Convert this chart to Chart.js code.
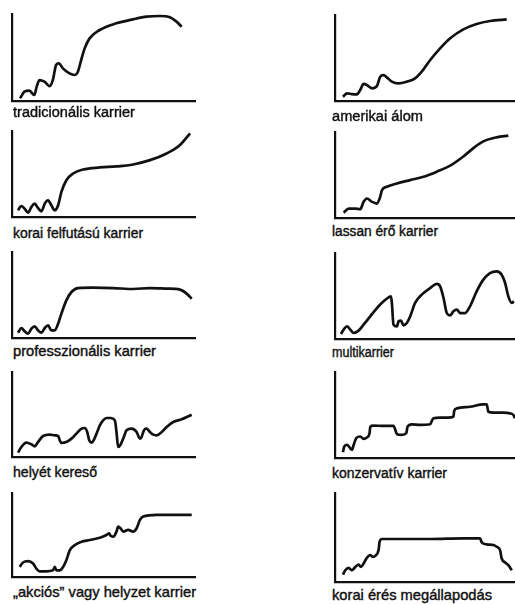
<!DOCTYPE html>
<html>
<head>
<meta charset="utf-8">
<script src="https://cdn.jsdelivr.net/npm/chart.js@4.4.3/dist/chart.umd.min.js"></script>
<style>
  html, body { margin: 0; padding: 0; background: #fff; overflow: hidden; }
  body { width: 515px; height: 604px; position: relative; }
  .box { position: absolute; }
  .lbl {
    position: absolute; left: 0; top: 0; width: max-content;
    font-family: "Liberation Sans", Arial, sans-serif;
    color: #111; white-space: nowrap; -webkit-text-stroke: 0.4px #111;
    transform-origin: 0 0;
  }
</style>
</head>
<body>
<script>
  // curve points: [x %, y %] of each small plot
  var tradicionalis = [[4.4,3.1],[6.8,10.7],[9.5,11.9],[12.2,6.9],[13.5,16.5],[15,24.1],[17.7,22.2],[20.5,17.2],[22.3,24.1],[24.1,41.4],[25.6,43.3],[27.8,37.5],[31.4,31.8],[34.2,29.9],[36,33.7],[37.8,47.1],[39.7,60.5],[42.4,72],[47.9,81.6],[57,89.3],[66.2,93.9],[73.5,96.9],[80.8,97.7],[86.3,96.2],[89.9,91.2],[92.7,85.4]];
  var amerikai = [[4.4,5],[6.7,8.9],[9.4,8.1],[12.2,7.8],[14,12.8],[15.9,19.8],[17.7,18.6],[20.5,14.7],[23.3,17.4],[25.1,28.3],[27,30.2],[28.8,27.5],[31.6,22.5],[35.3,20.5],[39.9,22.5],[44.5,26.4],[48.2,34.1],[52.9,47.7],[58.4,61.2],[64,72.9],[71.3,83.3],[78.7,89.5],[86.1,93],[95.4,95]];
  var koraiFelfutasu = [[3.3,7.8],[5.1,12.8],[6.9,9.7],[8.8,5.1],[10.6,11.7],[12.4,15.6],[14.2,10.5],[16.1,6.6],[17.9,15.6],[19.7,19.5],[21.5,13.6],[23.4,7.8],[25.2,13.6],[27,29.2],[29.7,42.8],[33.4,50.6],[38.9,55.3],[48,57.6],[57.1,58.8],[66.2,61.1],[75.4,66.1],[84.5,73.9],[91.8,83.7],[97.3,97.3]];
  var lassanEro = [[4.8,6.3],[7.6,10.9],[11.3,10.9],[14,10.2],[15.9,18.8],[17.7,22.7],[20.5,18.8],[23.3,16.8],[25.1,24.6],[26.1,32.4],[28.8,36.3],[34.4,40.2],[41.8,44.1],[49.2,48],[56.6,53.9],[64,60.9],[71.3,71.5],[76.9,81.3],[82.4,89.1],[89.8,93.8],[96.3,95.7]];
  var professzionalis = [[3.3,6.2],[5.1,11.6],[6.9,7.8],[8.8,5],[10.6,10.9],[12.4,13.6],[14.2,8.9],[16.1,6.2],[17.9,11.6],[19.7,14.7],[21.5,8.9],[23.4,8.9],[25.2,16.7],[27,28.3],[29.7,43.8],[32.5,53.5],[36.1,58.1],[44.3,58.5],[55.3,58.1],[66.2,57],[75.4,58.1],[84.5,57.4],[91.8,56.2],[95.4,51.6],[98.2,45.7]];
  var multikarrier = [[3.3,5.8],[4.8,10.9],[6.7,14.7],[8.5,10.9],[10.4,7],[13.1,9.7],[15.9,16.7],[19.6,26.4],[23.3,36],[27,43.8],[29.8,48.4],[31.1,49.6],[31.6,41.9],[32.5,16.7],[34.4,14.7],[35.3,20.5],[36.6,21.3],[38.1,15.9],[39.9,18.6],[41.8,26.4],[44.5,41.9],[48.2,51.6],[52.9,59.3],[56.6,64],[58.4,61.2],[60.3,47.7],[62.1,30.2],[64,27.5],[65.8,32.2],[67.7,34.1],[69.5,30.2],[72.3,30.2],[75,38],[78.7,55.4],[82.4,69],[86.1,76.7],[89.8,78.7],[92.6,74.8],[94.5,65.1],[96.3,49.6],[98.2,41.9],[99.4,43.8]];
  var helyetKereso = [[3.3,5.1],[5.1,11.8],[7.8,16.9],[10.6,14.9],[12.4,12.5],[14.2,17.6],[17,24.7],[20.6,26.3],[23.4,25.5],[25.2,24.7],[26.1,19.6],[27,16.5],[29.7,17.6],[32.5,21.6],[35.2,27.5],[38,33.3],[39.8,34.1],[41.1,29.4],[42.2,19.6],[43.4,16.9],[44.3,18.4],[46.2,27.5],[48,37.3],[49.8,43.1],[51.6,45.9],[53.8,45.9],[56.2,43.1],[57.1,29.4],[58,11.8],[59.3,14.5],[61.1,23.5],[62.6,31.4],[65.3,33.3],[68.1,29.4],[69.9,21.6],[70.8,23.5],[72.1,31.4],[73.5,33.3],[75.4,29.4],[77.2,26.3],[79,25.5],[81.8,29.4],[84.5,35.3],[88.1,41.2],[92.7,44.3],[98.2,49.8]];
  var konzervativ = [[4.4,6.9],[5.2,13.5],[6.7,15.4],[8.1,12.3],[9.4,9.6],[10.4,15.4],[11.8,23.1],[14,25],[15.9,22.3],[17.7,23.8],[19.2,28.8],[19.6,36.5],[21.4,37.7],[27,37.3],[32.5,37.3],[33.5,32.7],[34.4,27.7],[37.2,26.9],[39.6,28.8],[40.3,36.5],[42.7,39.2],[47.3,38.5],[52.9,39.2],[53.8,43.1],[54.7,46.2],[58.4,46.9],[63,46.9],[65.8,48.1],[66.2,54.6],[67.7,57.7],[75,59.6],[82.4,62.3],[84.3,62.3],[85.2,53.8],[88,52.7],[93.5,52.7],[97.2,51.9],[99.1,50],[100,46.2]];
  var akcios = [[4.2,12],[6,17.2],[8.8,18.8],[11.5,16],[13.3,10],[15.1,6.8],[18.8,6.8],[22.4,8],[23.4,12],[24.3,8],[26.1,8],[27.9,12],[29.7,20],[31.6,32],[34.3,38],[38,42],[42.5,44],[48,46.8],[51.6,50],[53.1,52],[53.8,49.2],[55.3,48],[57.1,54],[58,60],[59.3,58],[60.8,54],[63.5,56],[66.2,54],[68.1,58],[69.9,68],[71.7,72],[79,74],[88.1,74],[98.2,74]];
  var koraiEres = [[4.4,8.3],[5.7,13.2],[7.6,15.8],[9.4,13.2],[11.3,17],[13.1,19.6],[14.4,17],[15.9,20.8],[17.7,27.2],[19.6,30.2],[21.1,28.3],[22.4,29.4],[24.2,35.8],[24.8,45.3],[26.1,48.3],[34.4,48.3],[52.9,48.3],[71.3,49.1],[80.6,49.1],[81.5,44.5],[84.3,42.3],[88,41.5],[89.8,39.6],[91.7,35.8],[92.6,26.4],[94.5,21.9],[96.3,18.9],[98.2,13.2]];

  var panelLabels = [
    'tradicionális karrier', 'amerikai álom',
    'korai felfutású karrier', 'lassan érő karrier',
    'professzionális karrier', 'multikarrier',
    'helyét kereső', 'konzervatív karrier',
    '\u201Eakciós\u201D vagy helyzet karrier', 'korai érés megállapodás'
  ];
  var panelData = [tradicionalis, amerikai, koraiFelfutasu, lassanEro, professzionalis,
                   multikarrier, helyetKereso, konzervativ, akcios, koraiEres];

  // plot boxes [left, top, right, bottom], then label baseline, label width and font size
  // (the scan's labels differ in width from panel to panel)
  var boxes = [
    [12, 14, 195, 101, 117, 122, 14], [335, 15, 515, 101, 121, 91, 14],
    [12, 131, 195, 217, 238, 130, 14], [335, 132, 515, 218, 236, 106, 14],
    [12, 252, 195, 338, 356, 143, 14], [335, 253, 515, 339, 357, 62, 14],
    [12, 372, 195, 457, 477, 84, 14], [335, 372, 515, 458, 478, 115, 14],
    [12, 493, 195, 577, 597, 183, 14.5], [335, 493, 515, 582, 600, 160, 14.5]
  ];

  var PAD = 4;

  panelData.forEach(function (pts, i) {
    var b = boxes[i];
    var div = document.createElement('div');
    div.className = 'box';
    div.style.left = (b[0] - PAD) + 'px';
    div.style.top = (b[1] - PAD) + 'px';
    div.style.width = (b[2] - b[0] + 2 * PAD) + 'px';
    div.style.height = (b[3] - b[1] + 2 * PAD) + 'px';
    var canvas = document.createElement('canvas');
    div.appendChild(canvas);
    document.body.appendChild(div);

    var fs = b[6];
    var lbl = document.createElement('div');
    lbl.className = 'lbl';
    lbl.style.fontSize = fs + 'px';
    lbl.style.lineHeight = fs + 'px';
    lbl.textContent = panelLabels[i];
    document.body.appendChild(lbl);
    // squeeze or stretch the label so it spans the scan's width
    var sx = b[5] / lbl.getBoundingClientRect().width;
    lbl.style.transform = 'scaleX(' + sx.toFixed(3) + ')';
    lbl.style.left = (i % 2 ? 332 : 13) + 'px';
    lbl.style.top = (b[4] - 0.85 * fs).toFixed(1) + 'px';

    var axis = {
      type: 'linear', min: 0, max: 100,
      grid: { display: false, drawTicks: false },
      ticks: { display: false },
      border: { display: true, color: '#111', width: 2.2 }
    };

    new Chart(canvas, {
      type: 'line',
      data: {
        datasets: [{
          data: pts.map(function (p) { return { x: p[0], y: p[1] }; }),
          borderColor: '#111',
          borderWidth: 2.7,
          pointRadius: 0,
          cubicInterpolationMode: 'monotone',
          fill: false,
          clip: PAD
        }]
      },
      options: {
        responsive: true,
        maintainAspectRatio: false,
        animation: false,
        layout: { padding: PAD },
        plugins: { legend: { display: false }, tooltip: { enabled: false } },
        scales: { x: axis, y: Object.assign({}, axis) }
      }
    });
  });
</script>
</body>
</html>
